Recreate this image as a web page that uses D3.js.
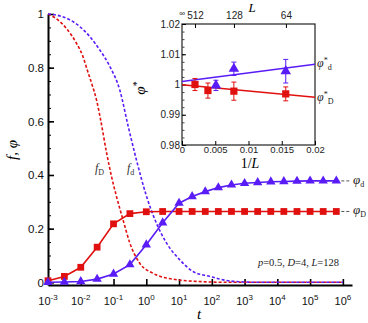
<!DOCTYPE html>
<html>
<head>
<meta charset="utf-8">
<script src="https://cdn.jsdelivr.net/npm/d3@7"></script>
<style>
  body { margin: 0; background: #fff; }
  svg { display: block; }
</style>
</head>
<body>
<script>

// main panel: time points of the simulation
var tPoints = [1e-3, 3.16e-3, 1e-2, 3.16e-2, 1e-1, 3.16e-1, 1, 3.16, 10, 25.1, 63.1, 158, 398,
  1e3, 2.51e3, 6.31e3, 1.58e4, 3.98e4, 1e5, 2.51e5, 6.31e5];
// order parameters (markers + solid lines)
var phiD = [0.006, 0.022, 0.056, 0.131, 0.218, 0.256, 0.263, 0.264, 0.264, 0.264, 0.264, 0.264, 0.264,
  0.264, 0.264, 0.264, 0.264, 0.264, 0.264, 0.264, 0.264];
var phid = [0.0, 0.001, 0.003, 0.012, 0.031, 0.066, 0.14, 0.222, 0.295, 0.32, 0.338, 0.353, 0.363,
  0.369, 0.372, 0.375, 0.376, 0.377, 0.378, 0.378, 0.378];

// fractions (dashed curves)
var fDTimes = [1e-3, 2e-3, 4e-3, 7.4e-3, 1.17e-2, 1.58e-2, 2.14e-2, 3.02e-2, 3.98e-2, 6.17e-2, 8.7e-2,
  0.123, 0.195, 0.316, 0.631, 1.58, 6.31, 39.8, 316, 1e6];
var fDValues = [1.0, 0.978, 0.94, 0.891, 0.841, 0.791, 0.742, 0.68, 0.61, 0.481, 0.394,
  0.32, 0.233, 0.146, 0.071, 0.034, 0.012, 0.003, 0.0, 0.0];
var fdTimes = [1e-3, 2.29e-3, 4.68e-3, 9.33e-3, 1.91e-2, 3.8e-2, 7.76e-2, 0.155, 0.282, 0.501, 1.02,
  2.04, 4.17, 10.5, 26.9, 87.1, 224, 724, 3e3, 1e6];
var fdValues = [1.0, 0.993, 0.978, 0.953, 0.915, 0.866, 0.804, 0.717, 0.58, 0.456, 0.32,
  0.22, 0.146, 0.084, 0.04, 0.022, 0.009, 0.002, 0.0, 0.0];

var xTickExp = [-3, -2, -1, 0, 1, 2, 3, 4, 5, 6];
var yTicks = [0, 0.2, 0.4, 0.6, 0.8, 1];
var yTickLabels = ['0', '0.2', '0.4', '0.6', '0.8', '1'];

// inset: finite size scaling
var invLD = [0.00195, 0.0039, 0.0078, 0.0156];
var phiStarD = [1.0, 0.998, 0.9978, 0.9969];
var errD = [0.002, 0.0025, 0.003, 0.0023];
var invLd = [0.0051, 0.0078, 0.0156];
var phiStard = [0.9997, 1.0052, 1.0044];
var errd = [0.0017, 0.0022, 0.0039];
var fitD = [0.9999, 0.9958];   // values at 1/L = 0 and 0.02
var fitd = [1.001, 1.0067];
var insetXTicks = [0, 0.005, 0.01, 0.015, 0.02];
var insetXLabels = ['0', '0.005', '0.01', '0.015', '0.02'];
var insetYTicks = [0.98, 0.99, 1, 1.01, 1.02];
var insetYLabels = ['0.98', '0.99', '1', '1.01', '1.02'];
var topTicks = [1 / 512, 1 / 128, 1 / 64];
var topLabels = ['512', '128', '64'];

var red = '#e0100f';
var blue = '#5a1cf6';
var sans = '"Liberation Sans", Arial, sans-serif';
var serif = '"Liberation Serif", "Times New Roman", serif';

var svg = d3.select('body').append('svg')
  .attr('width', 368).attr('height', 323)
  .style('background', '#fff');

// ################### MAIN PANEL ###################
var x = d3.scaleLog().domain([1e-3, 1.9e6]).range([48, 352]);
var y = d3.scaleLinear().domain([-0.01, 1]).range([285, 14]);

// minor y ticks
svg.append('g')
  .attr('transform', 'translate(48,0)')
  .call(d3.axisLeft(y).tickValues(d3.range(0.05, 1, 0.05)).tickSize(-3).tickFormat('').tickSizeOuter(0))
  .call(g => g.select('.domain').remove())
  .call(g => g.selectAll('line').attr('stroke-width', 1));

var yAxis = svg.append('g')
  .attr('transform', 'translate(48,0)')
  .call(d3.axisLeft(y).tickValues(yTicks).tickSize(-6).tickPadding(4).tickSizeOuter(0)
    .tickFormat((d, i) => yTickLabels[i]));
yAxis.select('.domain').attr('stroke-width', 2);
yAxis.selectAll('line').attr('stroke-width', 1.6);
yAxis.selectAll('text').attr('font-family', sans).attr('font-size', 11.5).attr('fill', '#111');

var xAxis = svg.append('g')
  .attr('transform', 'translate(0,285)')
  .call(d3.axisBottom(x).tickValues(xTickExp.map(e => Math.pow(10, e))).tickSize(-6)
    .tickSizeOuter(0).tickFormat(''));
xAxis.select('.domain').attr('stroke-width', 2);
xAxis.selectAll('line').attr('stroke-width', 1.6);

// x tick labels 10^n
var xl = svg.append('g').selectAll('text').data(xTickExp).enter().append('text')
  .attr('x', d => x(Math.pow(10, d)))
  .attr('y', 305)
  .attr('text-anchor', 'middle')
  .attr('font-family', sans).attr('font-size', 11).attr('fill', '#111');
xl.append('tspan').text('10');
xl.append('tspan').attr('dy', -5).attr('font-size', 8).text(d => d);

// axis titles
svg.append('text')
  .attr('x', 199).attr('y', 319)
  .attr('text-anchor', 'middle')
  .attr('font-family', serif).attr('font-style', 'italic').attr('font-size', 15)
  .text('t');

svg.append('text')
  .attr('transform', 'translate(17,150) rotate(-90)')
  .attr('text-anchor', 'middle')
  .attr('font-family', serif).attr('font-style', 'italic').attr('font-size', 15)
  .text('f, φ');

// dashed fraction curves
var fLine = d3.line().x(d => x(d[0])).y(d => y(d[1])).curve(d3.curveMonotoneX);

svg.append('path')
  .datum(d3.zip(fDTimes, fDValues))
  .attr('d', fLine)
  .attr('fill', 'none').attr('stroke', red).attr('stroke-width', 1.6)
  .attr('stroke-dasharray', '3,2');

svg.append('path')
  .datum(d3.zip(fdTimes, fdValues))
  .attr('d', fLine)
  .attr('fill', 'none').attr('stroke', blue).attr('stroke-width', 1.6)
  .attr('stroke-dasharray', '3,2');

// solid series with markers
var pLine = d3.line().x(d => x(d[0])).y(d => y(d[1]));

function drawSeries(values, color, shape, label, labelY) {
  var pts = d3.zip(tPoints, values);
  var last = pts[pts.length - 1];

  // leader to the label
  svg.append('line')
    .attr('x1', x(last[0])).attr('x2', 351)
    .attr('y1', y(last[1])).attr('y2', y(last[1]))
    .attr('stroke', '#555').attr('stroke-width', 1).attr('stroke-dasharray', '3,2');

  svg.append('path')
    .datum(pts)
    .attr('d', pLine)
    .attr('fill', 'none').attr('stroke', color).attr('stroke-width', 1.6);

  svg.append('g').selectAll('path').data(pts).enter().append('path')
    .attr('transform', d => 'translate(' + x(d[0]) + ',' + y(d[1]) + ')')
    .attr('d', d3.symbol().type(shape).size(shape === d3.symbolSquare ? 46 : 38))
    .attr('fill', color);

  var t = svg.append('text')
    .attr('x', 353).attr('y', labelY)
    .attr('font-family', serif).attr('font-size', 13).attr('fill', '#222');
  t.append('tspan').attr('font-style', 'italic').text('φ');
  t.append('tspan').attr('font-size', 8).attr('dy', 3).text(label);
}

drawSeries(phiD, red, d3.symbolSquare, 'D', y(phiD[phiD.length - 1]) + 3);
drawSeries(phid, blue, d3.symbolTriangle, 'd', y(phid[phid.length - 1]) + 3);

// curve labels
var fDLabel = svg.append('text').attr('x', 95).attr('y', 172)
  .attr('font-family', serif).attr('font-size', 12).attr('fill', '#333');
fDLabel.append('tspan').attr('font-style', 'italic').text('f');
fDLabel.append('tspan').attr('font-size', 8).attr('dy', 3).text('D');

var fdLabel = svg.append('text').attr('x', 127).attr('y', 172)
  .attr('font-family', serif).attr('font-size', 12).attr('fill', '#333');
fdLabel.append('tspan').attr('font-style', 'italic').text('f');
fdLabel.append('tspan').attr('font-size', 8).attr('dy', 3).text('d');

// parameters
var note = svg.append('text').attr('x', 339).attr('y', 266)
  .attr('text-anchor', 'end')
  .attr('font-family', serif).attr('font-size', 10.5).attr('fill', '#222');
note.append('tspan').attr('font-style', 'italic').text('p');
note.append('tspan').text('=0.5, ');
note.append('tspan').attr('font-style', 'italic').text('D');
note.append('tspan').text('=4, ');
note.append('tspan').attr('font-style', 'italic').text('L');
note.append('tspan').text('=128');

// ################### INSET ###################
var xi = d3.scaleLinear().domain([0, 0.02]).range([182, 315]);
var yi = d3.scaleLinear().domain([0.98, 1.02]).range([145, 24]);
var inset = svg.append('g');

inset.append('rect')
  .attr('x', 182).attr('y', 24).attr('width', 133).attr('height', 121)
  .attr('fill', '#fff').attr('stroke', '#222').attr('stroke-width', 1.2);

// minor ticks
inset.append('g').attr('transform', 'translate(182,0)')
  .call(d3.axisLeft(yi).tickValues(d3.range(0.9825, 1.02, 0.0025)).tickSize(-2.5).tickFormat('').tickSizeOuter(0))
  .call(g => g.select('.domain').remove())
  .call(g => g.selectAll('line').attr('stroke', '#444'));

var iy = inset.append('g').attr('transform', 'translate(182,0)')
  .call(d3.axisLeft(yi).tickValues(insetYTicks).tickSize(-4).tickPadding(2).tickSizeOuter(0)
    .tickFormat((d, i) => insetYLabels[i]));
iy.select('.domain').remove();
iy.selectAll('text').attr('font-family', sans).attr('font-size', 10).attr('fill', '#222');

var ix = inset.append('g').attr('transform', 'translate(0,145)')
  .call(d3.axisBottom(xi).tickValues(insetXTicks).tickSize(-4).tickPadding(1).tickSizeOuter(0)
    .tickFormat((d, i) => insetXLabels[i]));
ix.select('.domain').remove();
ix.selectAll('text').attr('font-family', sans).attr('font-size', 9.5).attr('fill', '#222');

var it = inset.append('g').attr('transform', 'translate(0,24)')
  .call(d3.axisTop(xi).tickValues(topTicks).tickSize(-4).tickPadding(5).tickSizeOuter(0)
    .tickFormat((d, i) => topLabels[i]));
it.select('.domain').remove();
it.selectAll('text').attr('font-family', sans).attr('font-size', 10).attr('fill', '#222');

inset.append('text').attr('x', 182).attr('y', 16).attr('text-anchor', 'middle')
  .attr('font-family', sans).attr('font-size', 8).attr('fill', '#222').text('∞');

inset.append('text').attr('x', 252).attr('y', 12).attr('text-anchor', 'middle')
  .attr('font-family', serif).attr('font-style', 'italic').attr('font-size', 13).text('L');

var invLabel = inset.append('text').attr('x', 250).attr('y', 168).attr('text-anchor', 'middle')
  .attr('font-family', serif).attr('font-size', 14);
invLabel.append('tspan').text('1/');
invLabel.append('tspan').attr('font-style', 'italic').text('L');

var phiLabel = inset.append('text').attr('transform', 'translate(145,88) rotate(-90)')
  .attr('text-anchor', 'middle')
  .attr('font-family', serif).attr('font-size', 15);
phiLabel.append('tspan').attr('font-style', 'italic').text('φ');
phiLabel.append('tspan').attr('font-size', 10).attr('dy', -5).text('*');

// fits
inset.append('line')
  .attr('x1', xi(0)).attr('x2', xi(0.02)).attr('y1', yi(fitd[0])).attr('y2', yi(fitd[1]))
  .attr('stroke', blue).attr('stroke-width', 1.6);
inset.append('line')
  .attr('x1', xi(0)).attr('x2', xi(0.02)).attr('y1', yi(fitD[0])).attr('y2', yi(fitD[1]))
  .attr('stroke', red).attr('stroke-width', 1.6);

function drawInsetSeries(xs, ys, es, color, shape, size) {
  var data = d3.zip(xs, ys, es);
  var g = inset.append('g').selectAll('g').data(data).enter().append('g')
    .attr('transform', d => 'translate(' + xi(d[0]) + ',0)');
  g.append('line')
    .attr('y1', d => yi(d[1] - d[2])).attr('y2', d => yi(d[1] + d[2]))
    .attr('stroke', color).attr('stroke-width', 1);
  g.append('line')
    .attr('x1', -2.5).attr('x2', 2.5).attr('y1', d => yi(d[1] - d[2])).attr('y2', d => yi(d[1] - d[2]))
    .attr('stroke', color).attr('stroke-width', 1);
  g.append('line')
    .attr('x1', -2.5).attr('x2', 2.5).attr('y1', d => yi(d[1] + d[2])).attr('y2', d => yi(d[1] + d[2]))
    .attr('stroke', color).attr('stroke-width', 1);
  g.append('path')
    .attr('transform', d => 'translate(0,' + yi(d[1]) + ')')
    .attr('d', d3.symbol().type(shape).size(size))
    .attr('fill', color);
}

drawInsetSeries(invLD, phiStarD, errD, red, d3.symbolSquare, 52);
drawInsetSeries(invLd, phiStard, errd, blue, d3.symbolTriangle, 48);

function insetLabel(sub, yPos) {
  var t = inset.append('text').attr('x', 317).attr('y', yPos)
    .attr('font-family', serif).attr('font-size', 12).attr('fill', '#222');
  t.append('tspan').attr('font-style', 'italic').text('φ');
  t.append('tspan').attr('font-size', 8).attr('dy', -4).text('*');
  t.append('tspan').attr('font-size', 8).attr('dy', 7).text(sub);
}
insetLabel('d', yi(fitd[1]) + 3);
insetLabel('D', yi(fitD[1]) + 4);

</script>
</body>
</html>
